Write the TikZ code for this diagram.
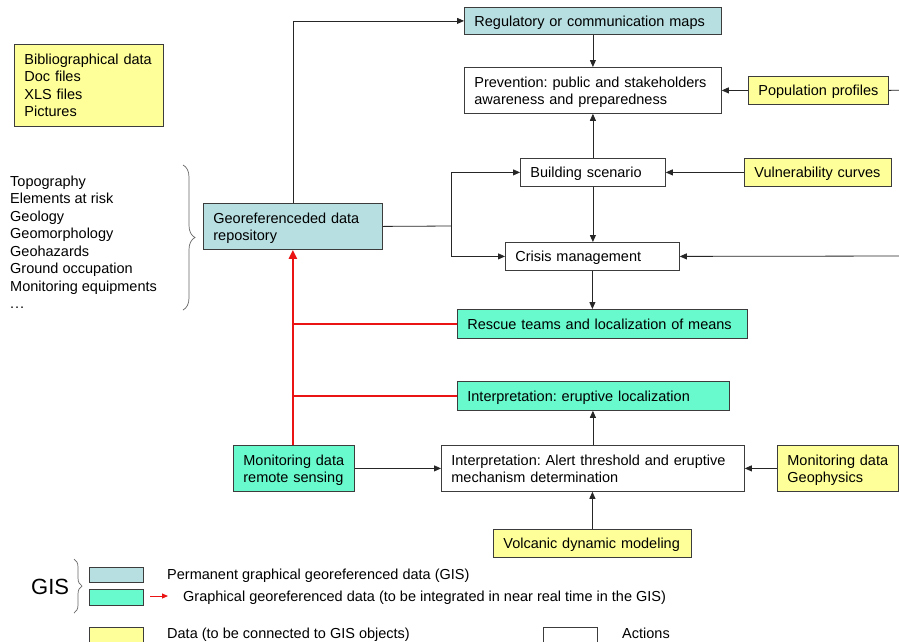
\documentclass[tikz,border=0pt]{standalone}
\usepackage{fontspec}
\setmainfont{Liberation Sans}
\frenchspacing
\usetikzlibrary{arrows.meta,decorations.pathreplacing}
\definecolor{gisblue}{RGB}{183,222,225}
\definecolor{gisgreen}{RGB}{104,250,204}
\definecolor{datayellow}{RGB}{255,255,153}
\definecolor{edgegray}{RGB}{60,60,60}
\definecolor{redline}{RGB}{235,20,20}
\begin{document}
\begin{tikzpicture}[x=1pt,y=-1pt,
  font=\fontsize{14.5}{17.6}\selectfont,
  bx/.style={draw=edgegray, line width=0.8pt, inner xsep=10pt, inner ysep=0pt,
    align=left, anchor=north west, text=black},
  one/.style={text depth=0pt},
  two/.style={text depth=17pt},
  arr/.style={draw=black!85, line width=0.8pt, -{Triangle[length=7pt,width=6pt]}},
  ln/.style={draw=black!85, line width=0.8pt},
  redthin/.style={color=redline, line width=1.4pt},
  redthick/.style={color=redline, line width=2.4pt, -{Triangle[length=9pt,width=8pt]}},
  lbl/.style={anchor=base west, inner sep=0pt, text=black},
  brc/.style={draw=black!60, line width=0.7pt, decorate}
]
\clip (0,0) rectangle (899,641);
\fill[white] (0,0) rectangle (899,641);

% boxes
\node[bx, fill=datayellow, text width=129pt, minimum height=82pt] (biblio) at (14,44)
  {Bibliographical data\\Doc files\\XLS files\\Pictures};
\node[bx, two, fill=gisblue, text width=159pt, minimum height=46pt] (georef) at (203,203)
  {Georeferenceded data\\repository};
\node[bx, one, fill=gisblue, text width=237pt, minimum height=27pt] (reg) at (464,7)
  {Regulatory or communication maps};
\node[bx, two, fill=white, text width=237pt, minimum height=46pt] (prev) at (464,67)
  {Prevention: public and stakeholders\\awareness and preparedness};
\node[bx, one, fill=datayellow, inner xsep=6pt, text width=128pt, minimum height=28pt] (pop) at (748,76)
  {\hspace*{4pt}Population profiles};
\node[bx, one, fill=white, text width=125pt, minimum height=28pt] (build) at (520,158)
  {Building scenario};
\node[bx, one, fill=datayellow, text width=127pt, minimum height=28pt] (vuln) at (744,158)
  {Vulnerability curves};
\node[bx, one, fill=white, text width=154pt, minimum height=28pt] (crisis) at (505,242)
  {Crisis management};
\node[bx, one, fill=gisgreen, text width=270pt, minimum height=29pt] (rescue) at (457,309)
  {Rescue teams and localization of means};
\node[bx, one, fill=gisgreen, text width=252pt, minimum height=29pt] (erupt) at (457,381)
  {Interpretation: eruptive localization};
\node[bx, two, fill=gisgreen, text width=101pt, minimum height=46pt] (monrs) at (233,445)
  {Monitoring data\\remote sensing};
\node[bx, two, fill=white, text width=283pt, minimum height=46pt] (alert) at (441,445)
  {Interpretation: Alert threshold and eruptive\\mechanism determination};
\node[bx, two, fill=datayellow, text width=101pt, minimum height=46pt] (geoph) at (777,445)
  {Monitoring data\\Geophysics};
\node[bx, one, fill=datayellow, text width=178pt, minimum height=28pt] (volc) at (493,529)
  {Volcanic dynamic modeling};

% left list
\foreach \t [count=\i] in {Topography,Elements at risk,Geology,Geomorphology,Geohazards,Ground occupation,Monitoring equipments}
  \node[lbl] (l\i) at (10,{186+17.5*(\i-1)}) {\t};
\node[lbl] (l8) at (10,308.5) {.\kern1pt.\kern1pt.};
\draw[brc, decoration={brace, amplitude=12pt}] (183,165) -- (183,310);

% connectors
\coordinate (popR) at (905,90);
\coordinate (crisR) at (905,256);
\coordinate (j) at (451,226);
\draw[arr] (georef.north) |- (reg.west);
\draw[arr] (reg.south) -- (reg.south |- prev.north);
\draw[arr] (build.north) -- (build.north |- prev.south);
\draw[arr] (pop.west) -- (prev.east);
\draw[ln] (pop.east) -- (popR);
\draw[arr] (vuln.west) -- (build.east);
\draw[ln] (georef.east) -- (j);
\draw[arr] (j) |- (build.west);
\draw[arr] (j) |- (crisis.west);
\draw[arr] (build.south) -- (build.south |- crisis.north);
\draw[arr] (crisR) -- (crisis.east);
\draw[arr] (crisis.south) -- (crisis.south |- rescue.north);
\draw[redthin] (rescue.west) -- (rescue.west -| georef.south);
\draw[redthin] (erupt.west) -- (erupt.west -| georef.south);
\draw[redthin] (monrs.north -| georef.south) -- (erupt.west -| georef.south);
\draw[redthick] (erupt.west -| georef.south) -- (georef.south);
\draw[arr] (monrs.east) -- (alert.west);
\draw[arr] (alert.north) -- (alert.north |- erupt.south);
\draw[arr] (volc.north) -- (volc.north |- alert.south);
\draw[arr] (geoph.west) -- (alert.east);

% legend
\node[anchor=west, inner sep=0pt, font=\fontsize{22}{24}\selectfont] (gis) at (31,587) {GIS};
\draw[brc, decoration={brace, amplitude=8pt}] (74,559) -- (74,613);
\node[bx, fill=gisblue, minimum width=54pt, minimum height=15pt, inner xsep=0pt] (lg1) at (89,567) {};
\node[bx, fill=gisgreen, minimum width=54pt, minimum height=16pt, inner xsep=0pt] (lg2) at (89,589) {};
\node[bx, fill=datayellow, minimum width=54pt, minimum height=22pt, inner xsep=0pt] (lg3) at (89,627) {};
\node[bx, fill=white, minimum width=54pt, minimum height=22pt, inner xsep=0pt] (lg4) at (543,627) {};
\node[lbl] (t1) at (167,579) {Permanent graphical georeferenced data (GIS)};
\node[lbl] (t2) at (183,601) {Graphical georeferenced data (to be integrated in near real time in the GIS)};
\coordinate (ra) at (150,596);
\coordinate (rb) at (168,596);
\draw[color=redline, line width=1pt, -{Triangle[length=6pt,width=5pt]}] (ra) -- (rb);
\node[lbl] (t3) at (167,638) {Data (to be connected to GIS objects)};
\node[lbl] (t4) at (622,638) {Actions};
\end{tikzpicture}
\end{document}
